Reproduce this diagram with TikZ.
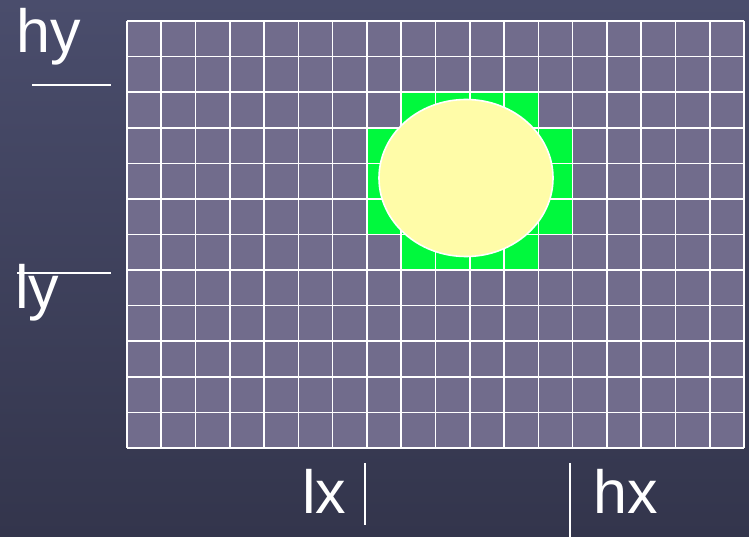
\documentclass[tikz,border=0pt]{standalone}
\usepackage{fontspec}
\setmainfont{Liberation Sans}
\usetikzlibrary{shapes.geometric}
\definecolor{bgtop}{HTML}{4A4D6C}
\definecolor{bgbot}{HTML}{33354C}
\definecolor{cellgray}{HTML}{716C8C}
\definecolor{hitgreen}{HTML}{00F93D}
\definecolor{blobyellow}{HTML}{FFFCA8}
\tikzset{
  lbl/.style={text=white, font=\fontsize{61}{61}\selectfont, inner sep=0pt, anchor=base west},
  gridline/.style={draw=white, line width=1.6pt},
  bound/.style={draw=white, line width=1.3pt},
  hit/.style={fill=hitgreen},
  blob/.style={fill=blobyellow, draw=white, line width=1.6pt}
}
\begin{document}
\begin{tikzpicture}[x=1pt, y=-1pt]
  % background
  \shade[top color=bgtop, bottom color=bgbot] (0,0) rectangle (749,537);
  \useasboundingbox (0,0) rectangle (749,537);
  % grid cells
  \def\cw{34.28}
  \def\ch{35.58}
  \fill[cellgray] (127,21) rectangle (744,448);
  \foreach \c/\r in {8/2,9/2,10/2,11/2, 7/3,8/3,9/3,10/3,11/3,12/3,
                     7/4,8/4,9/4,10/4,11/4,12/4, 7/5,8/5,9/5,10/5,11/5,12/5,
                     8/6,9/6,10/6,11/6}
    \fill[hit] (127+\c*\cw,21+\r*\ch) rectangle ++(\cw,\ch);
  \foreach \i in {0,...,18}
    \draw[gridline] (127+\i*\cw,21) -- (127+\i*\cw,448);
  \foreach \j in {0,...,12}
    \draw[gridline] (127,21+\j*\ch) -- (744,21+\j*\ch);
  % object
  \node[blob, ellipse, minimum width=174pt, minimum height=157pt, inner sep=0pt] (obj) at (466,178) {};
  % labels
  \node[lbl] (hy) at (16,53) {hy};
  \node[lbl] (ly) at (15,308) {ly};
  \node[lbl] (lx) at (302,513) {lx};
  \node[lbl] (hx) at (593,513) {hx};
  % bounds
  \coordinate (hyA) at (32,85);  \coordinate (hyB) at (111,85);
  \coordinate (lyA) at (17,273); \coordinate (lyB) at (111,273);
  \coordinate (lxA) at (365,463); \coordinate (lxB) at (365,525);
  \coordinate (hxA) at (570,463); \coordinate (hxB) at (570,537);
  \draw[bound] (hyA) -- (hyB);
  \draw[bound] (lyA) -- (lyB);
  \draw[bound] (lxA) -- (lxB);
  \draw[bound] (hxA) -- (hxB);
\end{tikzpicture}
\end{document}
